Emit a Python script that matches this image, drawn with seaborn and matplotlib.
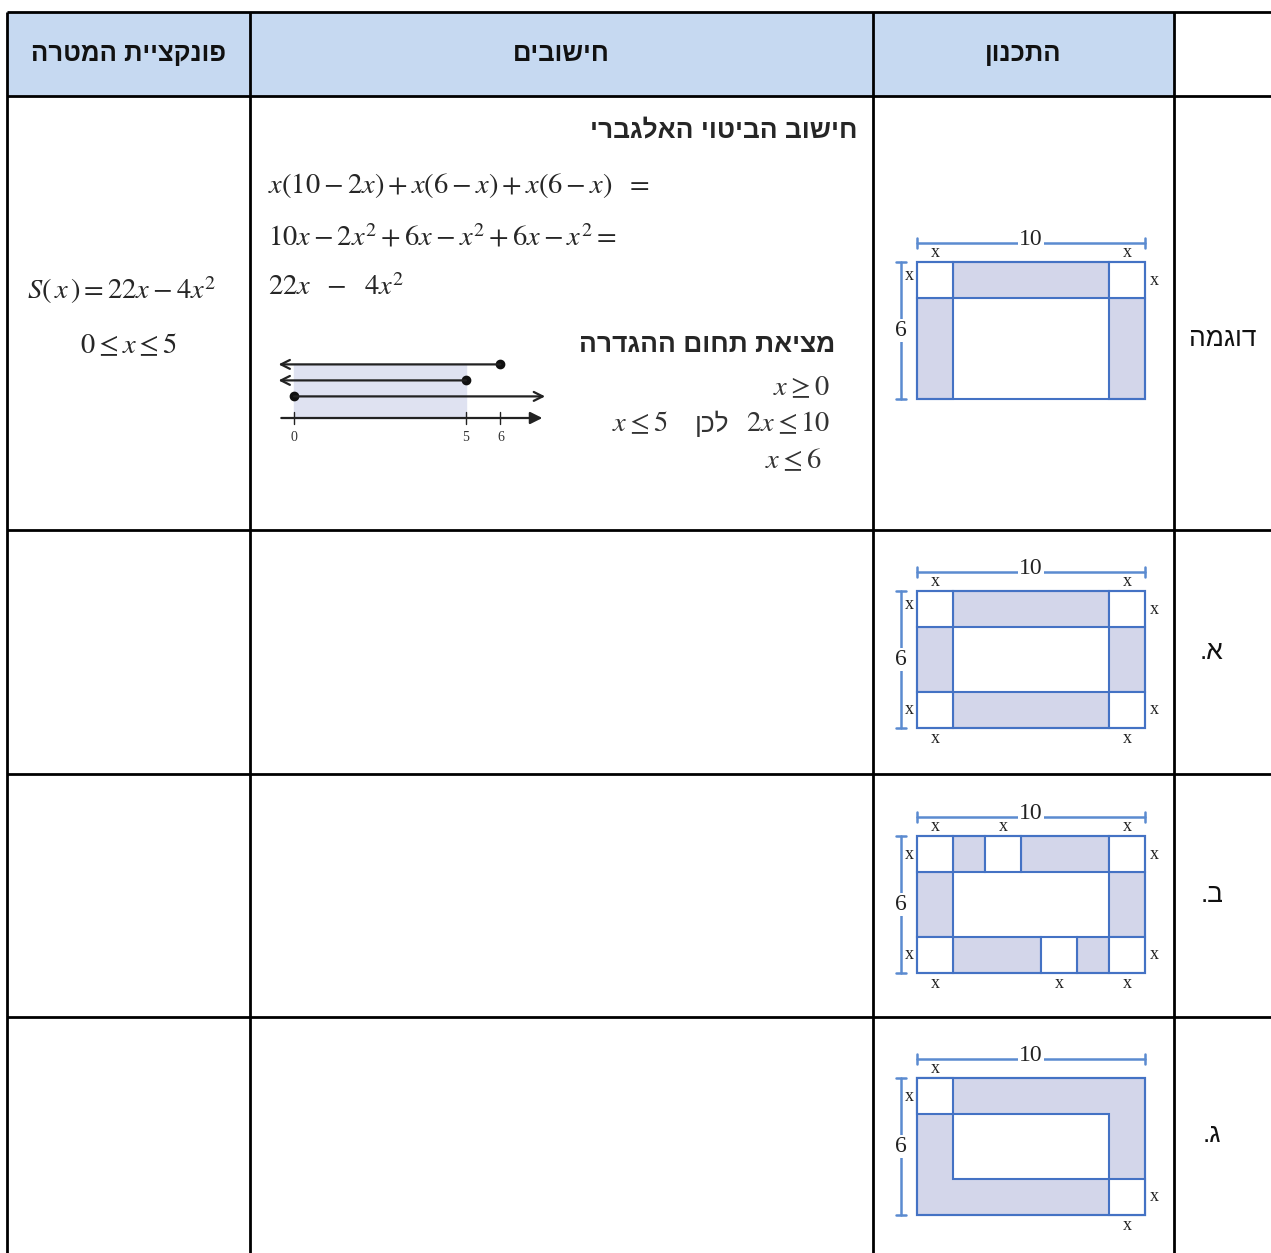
import numpy as np
import seaborn as sns
import matplotlib.pyplot as plt
from matplotlib.patches import Rectangle

sns.set_theme(style='white')
plt.rcParams['font.family'] = ['Liberation Sans', 'DejaVu Sans']
plt.rcParams['mathtext.fontset'] = 'stix'

# %% data
headers = ['פונקציית המטרה', 'חישובים', 'התכנון', '']
row_labels = ['דוגמה', 'א.', 'ב.', 'ג.']

calc_title = 'חישוב הביטוי האלגברי'
calc_lines = [r'$x(10-2x)+x(6-x)+x(6-x)\ \ =$',
              r'$10x-2x^2+6x-x^2+6x-x^2=$',
              r'$22x\ \ -\ \ 4x^2$']
domain_title = 'מציאת תחום ההגדרה'
therefore = 'לכן'
target_fn = [r'$S(\,x\,)=22x-4x^2$', r'$0\leq x\leq 5$']

# number line
nl_ticks = [0, 5, 6]
nl_shade = (0, 5)
ray_starts = [6, 5, 0]
ray_dirs = [-1, -1, 1]

# the designs (units: 10 x 6 plate, x = cut size)
XV = 1.58
W_PLATE, H_PLATE = 10, 6
gap_top_b = 2.98
gap_bot_b = 5.44

designs = {
    'ex': dict(
        shaded=[(XV, 0, 10 - 2 * XV, XV), (0, XV, XV, 6 - XV), (10 - XV, XV, XV, 6 - XV)],
        white=[(0, 0, XV, XV), (10 - XV, 0, XV, XV)],
        top=[XV / 2, 10 - XV / 2], left=[XV / 2 - 0.2], right=[XV / 2], bottom=[]),
    'a': dict(
        shaded=[(XV, 0, 10 - 2 * XV, XV), (XV, 6 - XV, 10 - 2 * XV, XV),
                (0, XV, XV, 6 - 2 * XV), (10 - XV, XV, XV, 6 - 2 * XV)],
        white=[(0, 0, XV, XV), (10 - XV, 0, XV, XV), (0, 6 - XV, XV, XV), (10 - XV, 6 - XV, XV, XV)],
        top=[XV / 2, 10 - XV / 2], left=[XV / 2 - 0.2, 6 - XV / 2], right=[XV / 2, 6 - XV / 2],
        bottom=[XV / 2, 10 - XV / 2]),
    'b': dict(
        shaded=[(XV, 0, gap_top_b - XV, XV), (gap_top_b + XV, 0, 10 - 2 * XV - gap_top_b, XV),
                (0, XV, XV, 6 - 2 * XV), (10 - XV, XV, XV, 6 - 2 * XV),
                (XV, 6 - XV, gap_bot_b - XV, XV), (gap_bot_b + XV, 6 - XV, 10 - 2 * XV - gap_bot_b, XV)],
        white=[(0, 0, XV, XV), (10 - XV, 0, XV, XV), (0, 6 - XV, XV, XV), (10 - XV, 6 - XV, XV, XV),
               (gap_top_b, 0, XV, XV), (gap_bot_b, 6 - XV, XV, XV)],
        top=[XV / 2, gap_top_b + XV / 2, 10 - XV / 2], left=[XV / 2, 6 - XV / 2],
        right=[XV / 2, 6 - XV / 2], bottom=[XV / 2, gap_bot_b + XV / 2, 10 - XV / 2]),
    'c': dict(
        shaded=[(0, 0, 10, 6)],
        white=[(0, 0, XV, XV), (10 - XV, 6 - XV, XV, XV), (XV, XV, 10 - 2 * XV, 6 - 2 * XV)],
        top=[XV / 2], left=[XV / 2], right=[6 - XV / 2], bottom=[10 - XV / 2]),
}

# %% layout (pixels)
W, H = 1271, 1253
col_edges = [7, 250, 873, 1174, 1271]
row_edges = [12, 96, 530, 774, 1017, 1253]
plate_left = 917
plate_tops = [262, 591, 836, 1078]
su = 22.8  # px per plate unit

HEAD = '#C6D9F1'
EDGE = '#4472C4'
DIM = '#5B8BD0'
SHADE = '#D3D6EA'
MATH_FS = 20.5

fig = plt.figure(figsize=(W / 100, H / 100), dpi=100)
ax = fig.add_axes([0, 0, 1, 1])
ax.set_xlim(0, W)
ax.set_ylim(H, 0)
ax.axis('off')

# table
ax.add_patch(Rectangle((col_edges[0], row_edges[0]), col_edges[3] - col_edges[0],
                       row_edges[1] - row_edges[0], color=HEAD, zorder=0))
ax.hlines(row_edges[:-1], col_edges[0], W, color='black', lw=2)
ax.vlines(col_edges[:-1], row_edges[0], H, color='black', lw=2)

for i, h in enumerate(headers):
    cx = (col_edges[i] + col_edges[i + 1]) / 2
    ax.text(cx, (row_edges[0] + row_edges[1]) / 2, h[::-1], ha='center', va='center',
            fontsize=18.5, fontweight='bold', color='#111111')

for i, lab in enumerate(row_labels):
    cy = (row_edges[i + 1] + row_edges[i + 2]) / 2 if i else 339
    cx = 1223 if i == 0 else 1212
    ax.text(cx, cy, lab[::-1], ha='center', va='center', fontsize=19, color='#111111')

# target function column
ax.text(122, 290, target_fn[0], ha='center', va='center', fontsize=MATH_FS)
ax.text(128, 346, target_fn[1], ha='center', va='center', fontsize=MATH_FS)

# calculations column
ax.text(857, 130, calc_title[::-1], ha='right', va='center', fontsize=19, fontweight='bold')
for line, y in zip(calc_lines, [185, 238, 288]):
    ax.text(268, y, line, ha='left', va='center', fontsize=MATH_FS)
ax.text(835, 345, domain_title[::-1], ha='right', va='center', fontsize=19, fontweight='bold')
ax.text(830, 388, r'$x\geq 0$', ha='right', va='center', fontsize=MATH_FS, color='#333333')
ax.text(830, 424, r'$2x\leq 10$', ha='right', va='center', fontsize=MATH_FS, color='#333333')
ax.text(712, 424, therefore[::-1], ha='center', va='center', fontsize=19, color='#333333')
ax.text(668, 424, r'$x\leq 5$', ha='right', va='center', fontsize=MATH_FS, color='#333333')
ax.text(822, 461, r'$x\leq 6$', ha='right', va='center', fontsize=MATH_FS, color='#333333')

# number line inset: x in units, y in levels (16 px each)
nu, lev = 34.4, 16
x0_px, base_px = 294, 418
xr, yr = (-0.6, 7.6), (-1.9, 4.0)
nax = fig.add_axes([(x0_px + xr[0] * nu) / W, 1 - (base_px - yr[0] * lev) / H,
                    (xr[1] - xr[0]) * nu / W, (yr[1] - yr[0]) * lev / H])
nax.set_xlim(*xr)
nax.set_ylim(*yr)
nax.axis('off')
levels = [3.35, 2.35, 1.35]
nax.add_patch(Rectangle((nl_shade[0], 0), nl_shade[1] - nl_shade[0], levels[0],
                        color='#DFE2F1', zorder=0))
nax.annotate('', xy=(7.3, 0), xytext=(-0.45, 0),
             arrowprops=dict(arrowstyle='-|>', color='#222222', lw=1.6, mutation_scale=18))
for t in nl_ticks:
    nax.plot([t, t], [-0.35, 0.35], color='#222222', lw=1)
    nax.text(t, -1.2, str(t), ha='center', va='center', fontsize=10,
             family='Liberation Serif', color='#333333')
for s, d, lv in zip(ray_starts, ray_dirs, levels):
    end = 7.3 if d > 0 else -0.45
    nax.annotate('', xy=(end, lv), xytext=(s, lv),
                 arrowprops=dict(arrowstyle='->', color='#222222', lw=1.6, mutation_scale=16,
                                 shrinkA=0, shrinkB=0))
    nax.plot(s, lv, 'o', color='#111111', ms=6)

# plan diagrams
ur_x, ur_y = (-1.6, 11.0), (-1.4, 7.0)
for top, key in zip(plate_tops, ['ex', 'a', 'b', 'c']):
    d = designs[key]
    dax = fig.add_axes([(plate_left + ur_x[0] * su) / W,
                        1 - (top + ur_y[1] * su) / H,
                        (ur_x[1] - ur_x[0]) * su / W,
                        (ur_y[1] - ur_y[0]) * su / H])
    dax.set_xlim(*ur_x)
    dax.set_ylim(ur_y[1], ur_y[0])
    dax.axis('off')
    for r in d['shaded']:
        dax.add_patch(Rectangle(r[:2], r[2], r[3], facecolor=SHADE, edgecolor=EDGE, lw=1.5))
    for r in d['white']:
        dax.add_patch(Rectangle(r[:2], r[2], r[3], facecolor='white', edgecolor=EDGE, lw=1.5))
    dax.add_patch(Rectangle((0, 0), W_PLATE, H_PLATE, fill=False, edgecolor=EDGE, lw=1.5))
    # dimension lines
    yd, xd, tk = -0.85, -0.72, 0.22
    dax.plot([0, W_PLATE], [yd, yd], color=DIM, lw=1.8)
    dax.plot([0, 0], [yd - tk, yd + tk], color=DIM, lw=1.8)
    dax.plot([W_PLATE, W_PLATE], [yd - tk, yd + tk], color=DIM, lw=1.8)
    dax.plot([xd, xd], [0, H_PLATE], color=DIM, lw=1.8)
    dax.plot([xd - tk, xd + tk], [0, 0], color=DIM, lw=1.8)
    dax.plot([xd - tk, xd + tk], [H_PLATE, H_PLATE], color=DIM, lw=1.8)
    dax.text(W_PLATE / 2, yd - 0.15, str(W_PLATE), ha='center', va='center', fontsize=17,
             family='Liberation Serif', color='#222222',
             bbox=dict(facecolor='white', edgecolor='none', pad=0.5))
    dax.text(xd, H_PLATE / 2, str(H_PLATE), ha='center', va='center', fontsize=17,
             family='Liberation Serif', color='#222222',
             bbox=dict(facecolor='white', edgecolor='none', pad=0.5))
    xkw = dict(ha='center', va='center', fontsize=13, family='Liberation Serif', color='#222222')
    for xx in d['top']:
        dax.text(xx, -0.42, 'x', **xkw)
    for yy in d['left']:
        dax.text(-0.35, yy, 'x', bbox=dict(facecolor='white', edgecolor='none', pad=0), **xkw)
    for yy in d['right']:
        dax.text(10.4, yy, 'x', **xkw)
    for xx in d['bottom']:
        dax.text(xx, 6.45, 'x', **xkw)

fig.savefig('out.png', dpi=100, facecolor='white')
